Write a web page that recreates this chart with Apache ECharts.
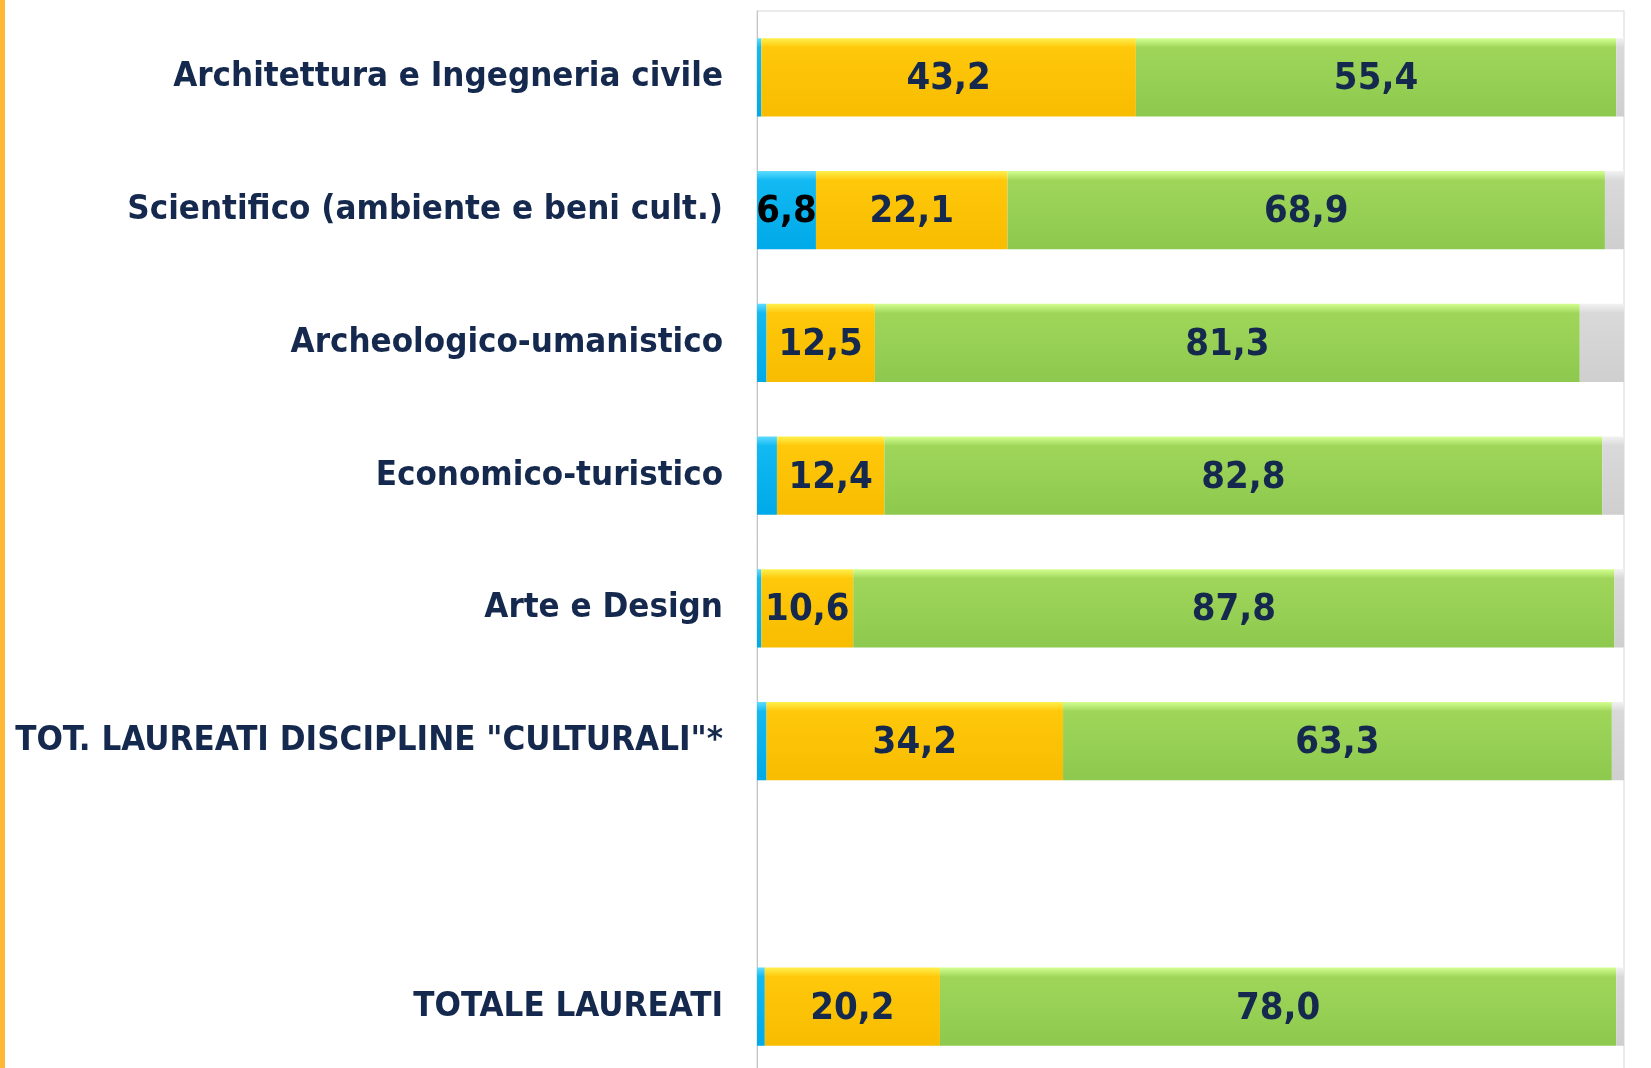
<!DOCTYPE html>
<html>
<head>
<meta charset="utf-8">
<script src="https://cdn.jsdelivr.net/npm/echarts@6/dist/echarts.min.js"></script>
<style>
    html, body { margin: 0; padding: 0; background: #fff; }
    #main { width: 1651px; height: 1068px; }
</style>
</head>
<body>
<div id="main"></div>
<script>
// categorie (dall'alto verso il basso), la riga vuota fa da separatore
var categories = [
    "Architettura e Ingegneria civile",
    "Scientifico (ambiente e beni cult.)",
    "Archeologico-umanistico",
    "Economico-turistico",
    "Arte e Design",
    'TOT. LAUREATI DISCIPLINE "CULTURALI"*',
    "",
    "TOTALE LAUREATI"
];
// quote percentuali per segmento
var blueVals = [0.5, 6.8, 1.1, 2.3, 0.5, 1.1, null, 0.9];
var yellowVals = [43.2, 22.1, 12.5, 12.4, 10.6, 34.2, null, 20.2];
var greenVals = [55.4, 68.9, 81.3, 82.8, 87.8, 63.3, null, 78.0];
var greyVals = [0.9, 2.2, 5.1, 2.5, 1.1, 1.4, null, 0.9];

var navy = "#14294d";
var font = "DejaVu Sans Condensed";

function fmt(v) {
    return v.toFixed(1).replace(".", ",");
}

function grad(top, mid, bottom) {
    return new echarts.graphic.LinearGradient(0, 0, 0, 1, [
        { offset: 0, color: top },
        { offset: 0.12, color: mid },
        { offset: 1, color: bottom }
    ]);
}

function seg(name, data, color, showLabel, labelColor) {
    return {
        name: name,
        type: "bar",
        stack: "tot",
        barWidth: "59%",
        data: data.map(function(v) {
            if (v === null) return "-";
            var show = showLabel === true || (showLabel === "big" && v >= 5);
            return { value: v, label: { show: show } };
        }),
        itemStyle: { color: color },
        label: {
            position: "inside",
            offset: [0, 2],
            color: labelColor || navy,
            fontFamily: font,
            fontWeight: "bold",
            fontSize: 38,
            formatter: function(p) {
                return fmt(p.value);
            }
        }
    };
}

var chart = echarts.init(document.getElementById("main"));
var option = {
    animation: false,
    grid: {
        left: 757,
        right: 27,
        top: 11,
        bottom: -5,
        outerBoundsMode: "none",
        show: true,
        borderColor: "#d6d6d6",
        borderWidth: 1
    },
    xAxis: {
        type: "value",
        min: 0,
        max: 100,
        show: false
    },
    yAxis: {
        type: "category",
        inverse: true,
        data: categories,
        axisLine: { show: true, lineStyle: { color: "#c4c4c4", width: 1 } },
        axisTick: { show: false },
        axisLabel: {
            margin: 34,
            padding: [4, 0, 0, 0],
            color: navy,
            fontFamily: font,
            fontWeight: "bold",
            fontSize: 34.6
        }
    },
    graphic: [
        {
            type: "rect",
            shape: { x: 0, y: 0, width: 5, height: 1068 },
            style: { fill: "#ffb833" }
        }
    ],
    series: [
        seg("blue", blueVals, grad("#5fdcff", "#12b9f2", "#00a9e8"), "big", "#000"),
        seg("yellow", yellowVals, grad("#fff04d", "#ffc80a", "#f8bc00"), true),
        seg("green", greenVals, grad("#d4ff91", "#9fd65a", "#8dc94e"), true),
        seg("grey", greyVals, grad("#f2f2f2", "#d9d9d9", "#cfcfcf"), false)
    ]
};
chart.setOption(option);
</script>
</body>
</html>
